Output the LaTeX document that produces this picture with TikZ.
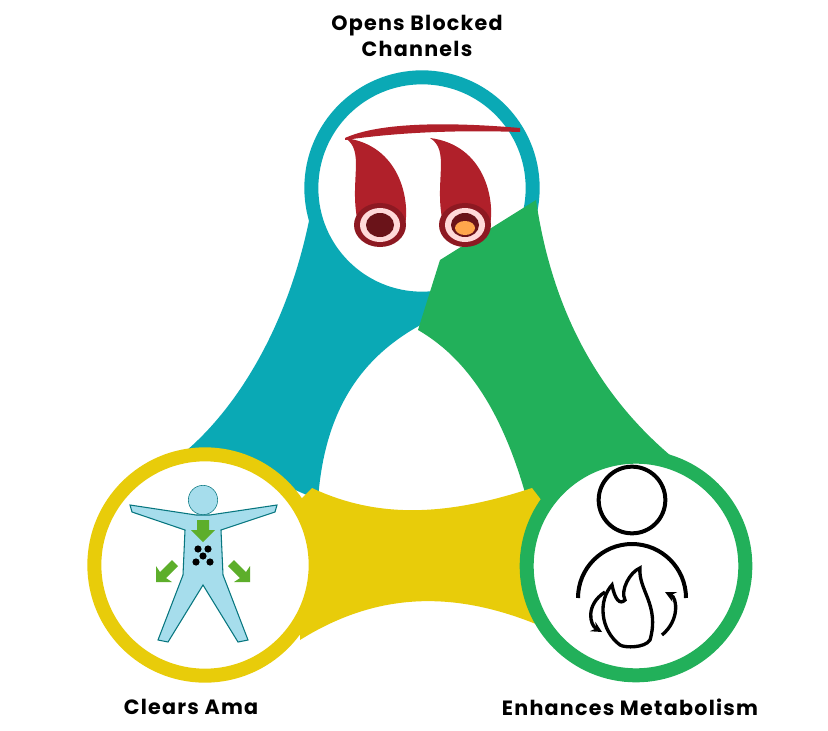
\documentclass[tikz,border=0pt]{standalone}
\usepackage{fontspec}
\setmainfont[LetterSpace=6]{Poppins}
\definecolor{teal}{HTML}{0AA9B5}
\definecolor{grn}{HTML}{22B05A}
\definecolor{yel}{HTML}{E8CC0A}
\definecolor{vessel}{HTML}{B0202A}
\definecolor{skin}{HTML}{A6DDEC}
\definecolor{arr}{HTML}{5DAE2B}
\tikzset{lab/.style={font=\bfseries\fontsize{15.5}{19}\selectfont,align=center,text=black},
ring/.style={line width=10.5pt,fill=white,inner sep=0}}
\begin{document}
\begin{tikzpicture}[x=0.75pt,y=-0.75pt]
\useasboundingbox (0,0) rectangle (828,731);
% teal band
\fill[teal] (312,205) .. controls (290,330) and (230,420) .. (172,462) -- (250,470) -- (318,500)
  .. controls (325,400) and (370,350) .. (430,320) -- (440,250) -- cycle;
\node[ring,draw=teal,circle,minimum size=166pt] (top) at (422,188) {};
% green band
\fill[grn] (536,200) .. controls (555,330) and (615,420) .. (705,482) -- (600,520) -- (535,532)
  .. controls (510,420) and (470,360) .. (418,330) -- (440,260) -- cycle;
% yellow band
\fill[yel] (300,500) -- (312,488) .. controls (380,520) and (450,515) .. (532,488) -- (545,505) -- (550,630)
  .. controls (460,590) and (380,590) .. (300,640) -- cycle;
\node[ring,draw=yel,circle,minimum size=166pt] (ama) at (205,565) {};
\node[ring,draw=grn,circle,minimum size=164pt] (met) at (636,566) {};
% vessels
\foreach \dx in {0,85}{
 \fill[vessel] (357+\dx,218) .. controls (350+\dx,180) and (365+\dx,150) .. (345+\dx,138)
   .. controls (400+\dx,145) and (410+\dx,200) .. (405+\dx,225) -- cycle;
 \fill[vessel!80!black] (380+\dx,225) ellipse[x radius=26,y radius=22];
 \fill[pink!60] (380+\dx,225) ellipse[x radius=20,y radius=17];
 \fill[vessel!60!black] (380+\dx,225) ellipse[x radius=14,y radius=12];
}
\fill[vessel] (345,138) .. controls (380,122) and (450,122) .. (520,128) -- (520,132) .. controls (460,130) and (400,132) .. (345,140) -- cycle;
\fill[orange!70] (465,228) ellipse[x radius=10,y radius=7];
% body figure
\fill[skin,draw=teal!70!black,line width=0.8pt] (196,515) -- (130,505) -- (132,512) -- (185,530) -- (183,575) -- (158,640) -- (168,642) -- (203,585) -- (238,642) -- (248,640) -- (223,575) -- (221,530) -- (275,512) -- (277,505) -- (210,515) -- cycle;
\node[circle,fill=skin,draw=teal!70!black,minimum size=22pt,inner sep=0] (head) at (203,500) {};
\fill[arr] (197,520) -- (209,520) -- (209,530) -- (215,530) -- (203,542) -- (191,530) -- (197,530) -- cycle;
\fill[arr] (172,560) -- (160,572) -- (156,566) -- (156,582) -- (172,582) -- (166,578) -- (178,566) -- cycle;
\fill[arr] (234,560) -- (246,572) -- (250,566) -- (250,582) -- (234,582) -- (240,578) -- (228,566) -- cycle;
\foreach \p in {(198,549),(208,549),(203,556),(196,562),(210,562)} \fill \p circle[radius=3.6];
% metabolism icon
\node[circle,draw,line width=3pt,minimum size=50pt,inner sep=0] (mhead) at (632,500) {};
\draw[line width=3pt] (578,598) arc[start angle=180,end angle=360,radius=54];
\draw[line width=2.5pt,fill=white] (620,645) .. controls (600,630) and (598,600) .. (612,585)
 .. controls (615,600) and (620,605) .. (625,600) .. controls (620,590) and (630,572) .. (640,568)
 .. controls (638,590) and (660,605) .. (650,640) .. controls (645,648) and (625,648) .. (620,645) -- cycle;
\draw[line width=2.5pt,-stealth] (605,592) .. controls (585,605) and (590,625) .. (602,632);
\draw[line width=2.5pt,-stealth] (662,635) .. controls (680,620) and (677,598) .. (665,592);
% labels
\node[lab] (t1) at (417,36) {Opens Blocked\\Channels};
\node[lab] (t2) at (191,707) {Clears Ama};
\node[lab] (t3) at (630,707) {Enhances Metabolism};
\end{tikzpicture}
\end{document}
